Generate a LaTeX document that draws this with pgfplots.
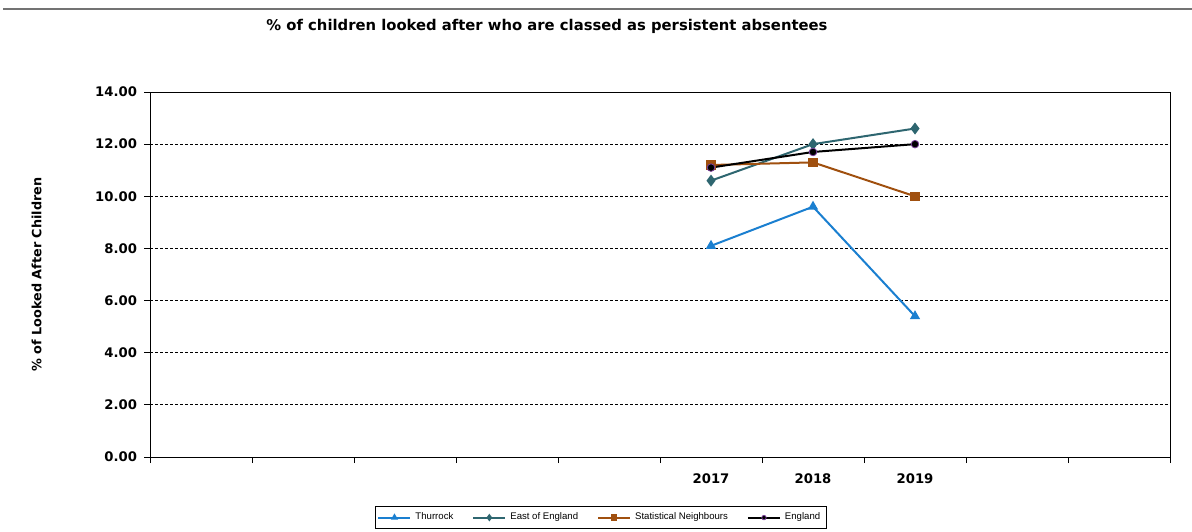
\documentclass[border=0pt]{standalone}
\usepackage{pgfplots}
\pgfplotsset{compat=1.18}
\usepackage{fontspec}
\setmainfont{DejaVu Sans}
\newfontfamily\arialfont{Liberation Sans}
\definecolor{thur}{HTML}{1A7FD0}
\definecolor{eoe}{HTML}{2E6670}
\definecolor{sn}{HTML}{A0500F}
\definecolor{engedge}{HTML}{7A3F9A}
\begin{document}
\begin{tikzpicture}[x=1pt,y=1pt]
\path[use as bounding box] (0,0) rectangle (596,265.5);
\draw[line width=1pt, color=black!55] (1.5,261) -- (596,261);
\node[font=\bfseries\fontsize{7.4}{8}\selectfont] at (273.5,252.5) {\% of children looked after who are classed as persistent absentees};
\begin{axis}[
  at={(75pt,37pt)}, anchor=south west,
  scale only axis, width=510pt, height=182.5pt,
  xmin=0, xmax=10, ymin=0, ymax=14,
  xtick={0,1,...,10}, xticklabels={},
  extra x ticks={5.5,6.5,7.5},
  extra x tick labels={2017,2018,2019},
  extra x tick style={major tick length=0pt, grid=none},
  xtick pos=bottom, ytick pos=left,
  ytick={0,2,...,14},
  yticklabel style={/pgf/number format/.cd, fixed, fixed zerofill, precision=2},
  /pgf/number format/assume math mode=true,
  tick align=outside, major tick length=3pt,
  tick style={black, line width=0.5pt},
  ymajorgrids, grid style={black, dashed, line width=0.4pt, dash pattern=on 1.5pt off 1pt},
  axis line style={black, line width=0.5pt},
  ticklabel style={font=\bfseries\fontsize{6.6}{7}\selectfont},
  xticklabel style={yshift=-5pt},
  ylabel={\% of Looked After Children},
  ylabel style={font=\bfseries\fontsize{6.4}{7}\selectfont},
  ylabel shift=20pt,
  legend columns=4,
  legend style={at={(0.442,-0.166)}, anchor=center, draw=black, line width=0.5pt,
    font=\arialfont\fontsize{4.8}{5}\selectfont, inner sep=1.2pt,
    /tikz/every even column/.append style={column sep=7.5pt}},
  legend image code/.code={\draw[#1, mark size=1.1pt, mark repeat=2, mark phase=2] plot coordinates {(0pt,0pt) (8pt,0pt) (16pt,0pt)};},
  clip=false,
]
\addplot[thur, line width=1pt, mark=triangle*, mark size=2pt, mark options={solid}] coordinates {(5.5,8.1) (6.5,9.6) (7.5,5.4)};
\addlegendentry{Thurrock}
\addplot[eoe, line width=1pt, mark=diamond*, mark size=2.2pt] coordinates {(5.5,10.6) (6.5,12.0) (7.5,12.6)};
\addlegendentry{East of England}
\addplot[sn, line width=1pt, mark=square*, mark size=1.8pt] coordinates {(5.5,11.2) (6.5,11.3) (7.5,10.0)};
\addlegendentry{Statistical Neighbours}
\addplot[black, line width=1pt, mark=*, mark size=1.9pt, mark options={draw=engedge, fill=black, line width=0.4pt}] coordinates {(5.5,11.1) (6.5,11.7) (7.5,12.0)};
\addlegendentry{England}
\end{axis}
\end{tikzpicture}
\end{document}
